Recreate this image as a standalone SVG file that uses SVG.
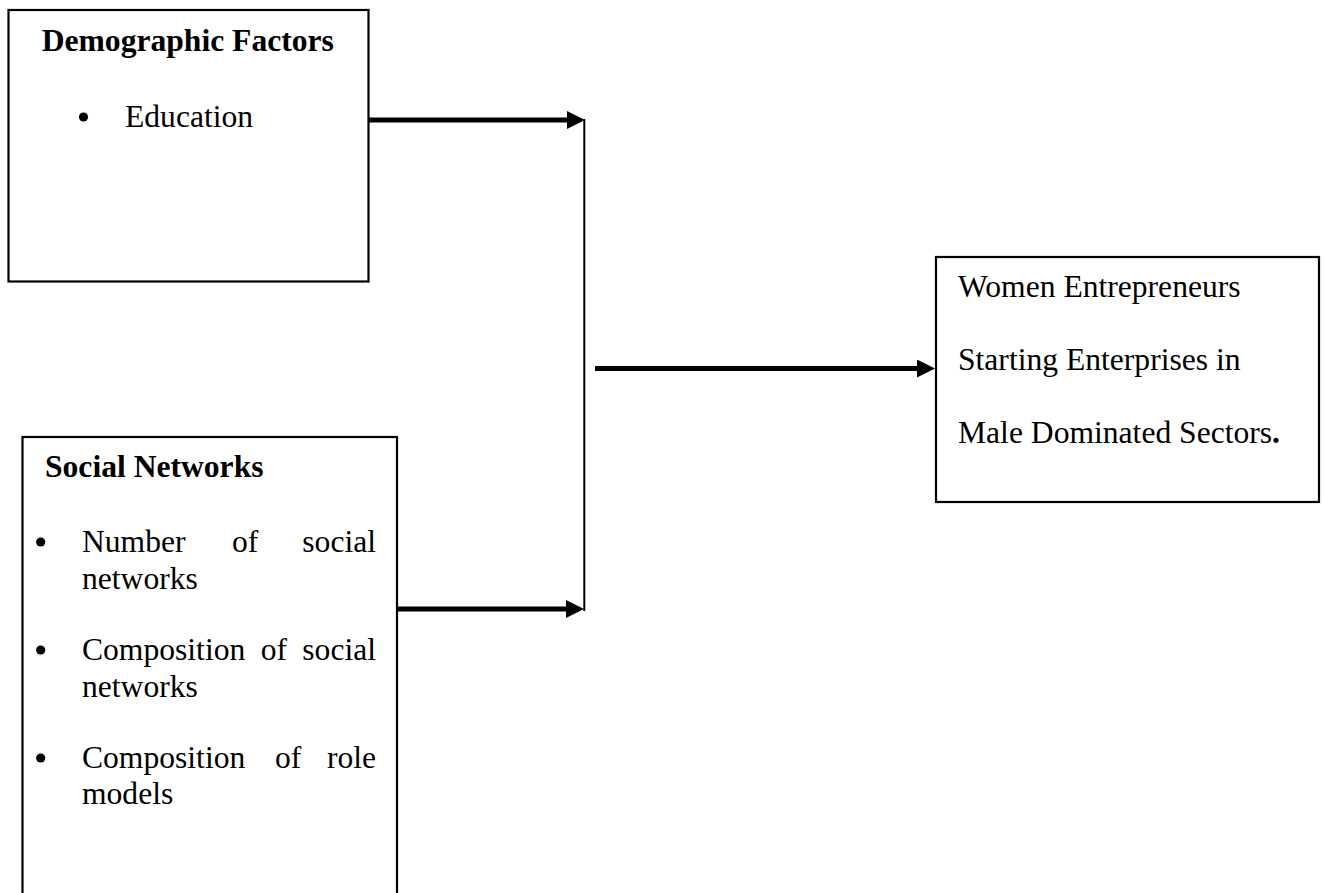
<svg xmlns="http://www.w3.org/2000/svg" width="1324" height="893" viewBox="0 0 1324 893">
<style>
.box{fill:#fff;stroke:#000;stroke-width:2.2}
.t{font-family:"Liberation Serif","Times New Roman",serif;font-size:31.6px;fill:#000}
.b{font-weight:bold}
.arrow{stroke:#000;stroke-width:5;fill:none}
.thin{stroke:#000;stroke-width:2;fill:none}
</style>
<defs>
<marker id="ah" markerUnits="userSpaceOnUse" markerWidth="18" markerHeight="18" refX="0" refY="9" orient="auto">
<path d="M0,0 L18,9 L0,18 z" fill="#000"/>
</marker>
</defs>
<rect width="1324" height="893" fill="#fff"/>
<g id="node-demographic">
<rect class="box" x="8.5" y="10" width="360" height="271.5"/>
<text class="t b" x="41.7" y="51">Demographic Factors</text>
<circle cx="83.5" cy="117" r="4.6" fill="#000"/>
<text class="t" x="125" y="127">Education</text>
</g>
<g id="node-social">
<rect class="box" x="22.5" y="437" width="374.5" height="480"/>
<text class="t b" x="45" y="477">Social Networks</text>
<circle cx="40.7" cy="542" r="4.6" fill="#000"/>
<text class="t" x="82" y="552">Number</text>
<text class="t" x="232" y="552">of</text>
<text class="t" x="376" y="552" text-anchor="end">social</text>
<text class="t" x="82" y="589">networks</text>
<circle cx="40.7" cy="650" r="4.6" fill="#000"/>
<text class="t" x="82" y="660">Composition</text>
<text class="t" x="260.7" y="660">of</text>
<text class="t" x="376" y="660" text-anchor="end">social</text>
<text class="t" x="82" y="697">networks</text>
<circle cx="40.7" cy="758" r="4.6" fill="#000"/>
<text class="t" x="82" y="768">Composition</text>
<text class="t" x="275" y="768">of</text>
<text class="t" x="376" y="768" text-anchor="end">role</text>
<text class="t" x="82" y="804">models</text>
</g>
<g id="node-outcome">
<rect class="box" x="936" y="257" width="383" height="245"/>
<text class="t" x="958" y="297">Women Entrepreneurs</text>
<text class="t" x="958" y="370">Starting Enterprises in</text>
<text class="t" x="958" y="443">Male Dominated Sectors<tspan class="b">.</tspan></text>
</g>
<g id="connectors">
<line class="thin" x1="584.3" y1="119" x2="584.3" y2="611"/>
<line class="arrow" x1="369" y1="120" x2="567" y2="120" marker-end="url(#ah)"/>
<line class="arrow" x1="397" y1="609" x2="566" y2="609" marker-end="url(#ah)"/>
<line class="arrow" x1="595" y1="368.5" x2="917" y2="368.5" marker-end="url(#ah)"/>
</g>
</svg>
